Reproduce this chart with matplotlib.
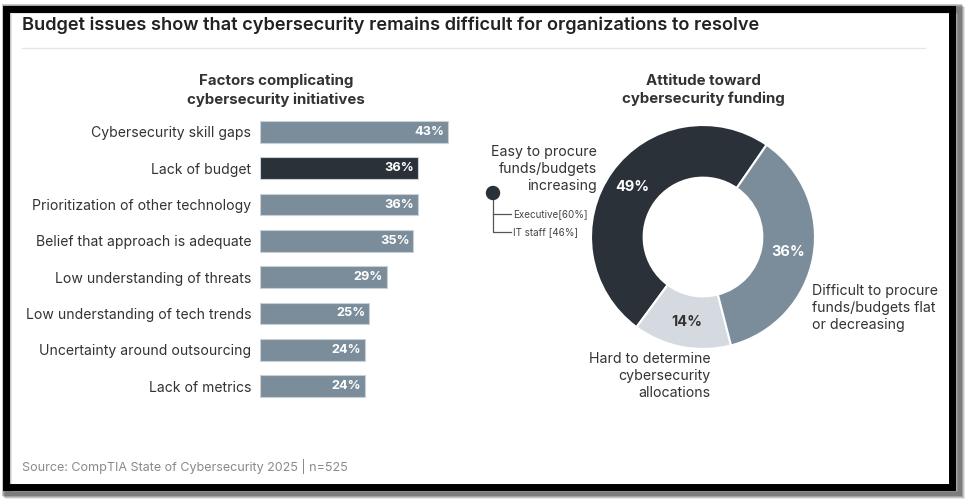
import matplotlib
matplotlib.use("Agg")
import matplotlib.pyplot as plt
from matplotlib.patches import Rectangle, Circle
import numpy as np

plt.rcParams['font.family'] = ['Inter', 'DejaVu Sans']

# ---- data ----
factors = ["Cybersecurity skill gaps", "Lack of budget", "Prioritization of other technology",
           "Belief that approach is adequate", "Low understanding of threats",
           "Low understanding of tech trends", "Uncertainty around outsourcing", "Lack of metrics"]
factor_values = [43, 36, 36, 35, 29, 25, 24, 24]
highlight = "Lack of budget"

funding_labels = ["Easy to procure\nfunds/budgets\nincreasing",
                  "Hard to determine\ncybersecurity\nallocations",
                  "Difficult to procure\nfunds/budgets flat\nor decreasing"]
funding_values = [49, 14, 36]
breakdown_labels = ["Executive[60%]", "IT staff [46%]"]

title = "Budget issues show that cybersecurity remains difficult for organizations to resolve"
left_title = "Factors complicating\ncybersecurity initiatives"
right_title = "Attitude toward\ncybersecurity funding"
source = "Source: CompTIA State of Cybersecurity 2025 | n=525"

# ---- style ----
DARK = "#2a3139"
MID = "#7b8d9a"
LIGHT = "#d4dadf"
TXT = "#333333"

W, H = 970, 504
fig = plt.figure(figsize=(W / 100, H / 100), dpi=100)
fig.patch.set_facecolor("white")

def px_axes(x0, y0, x1, y1, **kw):
    return fig.add_axes([x0 / W, 1 - y1 / H, (x1 - x0) / W, (y1 - y0) / H], **kw)

# overlay in pixel coordinates
ov = px_axes(0, 0, W, H)
ov.set_xlim(0, W)
ov.set_ylim(H, 0)
ov.axis("off")
ov.set_zorder(0)

# shadow + frame
for i, a in enumerate([0.10, 0.14, 0.18, 0.22]):
    off = 5 - i
    ov.add_patch(Rectangle((3 + off, 5 + off), 953, 485, fill=False,
                           lw=5.0, ec="black", alpha=a, zorder=1))
ov.add_patch(Rectangle((6.5, 8.5), 946, 478, fill=False, lw=5.0, ec="black", zorder=2))

ov.text(22, 25, title, fontsize=13.1, fontweight="semibold", color="#222222",
        ha="left", va="center")
ov.plot([22, 925], [48, 48], color="#e6e6e6", lw=1)
ov.text(22, 466, source, fontsize=9.05, color="#8a8a8a", ha="left", va="center")

ov.text(276, 90, left_title, fontsize=10.8, fontweight="bold", color=TXT,
        ha="center", va="center", linespacing=1.35)
ov.text(703, 90, right_title, fontsize=10.8, fontweight="bold", color=TXT,
        ha="center", va="center", linespacing=1.35)

# ---- bar chart ----
axb = px_axes(260, 113.85, 260 + 219, 404.15)
axb.set_zorder(3)
axb.patch.set_alpha(0)
y = np.arange(len(factors))
colors = [DARK if f == highlight else MID for f in factors]
bars = axb.barh(y, factor_values, height=0.6, color=colors, edgecolor="#c9d1d8", lw=0.8)
axb.set_xlim(0, 50)
axb.set_ylim(len(factors) - 0.5, -0.5)
axb.set_yticks(y)
axb.set_yticklabels(factors, fontsize=10.1, color=TXT)
axb.tick_params(axis="y", length=0, pad=6.3)
axb.set_xticks([])
for s in axb.spines.values():
    s.set_visible(False)
for yi, v in zip(y, factor_values):
    axb.text(v - 0.9, yi, f"{v}%", color="white", fontsize=9.2, fontweight="bold",
             ha="right", va="center")

# ---- donut ----
cx, cy, R = 703, 237, 112
axd = px_axes(cx - R, cy - R, cx + R, cy + R)
axd.set_zorder(3)
wedges, _ = axd.pie(funding_values, colors=[DARK, LIGHT, MID], startangle=55.4,
                    counterclock=True, normalize=True,
                    wedgeprops=dict(width=0.47, edgecolor="white", linewidth=1.5))
axd.set_xlim(-1, 1)
axd.set_ylim(-1, 1)
axd.set_aspect("equal")
for w, v, c in zip(wedges, funding_values, ["white", TXT, "white"]):
    ang = np.deg2rad((w.theta1 + w.theta2) / 2)
    r = 0.77
    axd.text(r * np.cos(ang), r * np.sin(ang), f"{v}%", color=c, fontsize=10.5,
             fontweight="bold", ha="center", va="center")

# outside labels
ov.text(597, 169, funding_labels[0], fontsize=10.2, color=TXT, ha="right", va="center",
        linespacing=1.25)
ov.text(812, 308, funding_labels[2], fontsize=10.2, color=TXT, ha="left", va="center",
        linespacing=1.25)
ov.text(711, 376, funding_labels[1], fontsize=10.2, color=TXT, ha="right", va="center",
        linespacing=1.25)

# breakdown marker
ov.plot([493, 493, 511], [193, 232, 232], color="#555555", lw=0.9, zorder=3)
ov.plot([493, 511], [214, 214], color="#555555", lw=0.9, zorder=3)
ov.add_patch(Circle((493, 193), 6.5, color=DARK, zorder=4))
ov.text(513, 214, breakdown_labels[0], fontsize=7.1, color="#444444", ha="left", va="center")
ov.text(513, 232, breakdown_labels[1], fontsize=7.1, color="#444444", ha="left", va="center")

fig.savefig("out.png", dpi=100)
